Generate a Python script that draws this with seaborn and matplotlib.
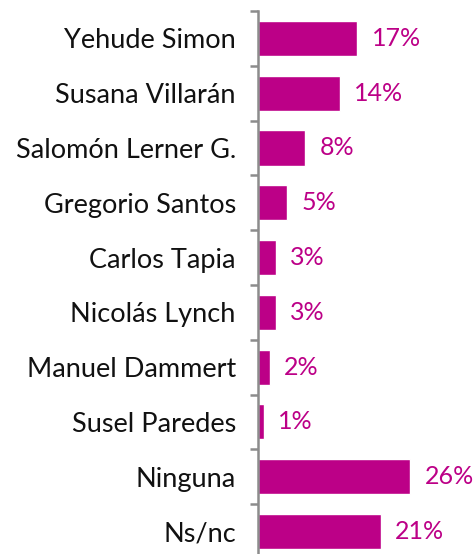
import matplotlib
matplotlib.use("Agg")
import matplotlib.pyplot as plt
import seaborn as sns
import numpy as np
import pandas as pd

# data
candidates = ["Yehude Simon", "Susana Villarán", "Salomón Lerner G.", "Gregorio Santos",
              "Carlos Tapia", "Nicolás Lynch", "Manuel Dammert", "Susel Paredes",
              "Ninguna", "Ns/nc"]
pct = [17, 14, 8, 5, 3, 3, 2, 1, 26, 21]

df = pd.DataFrame({"candidato": candidates, "pct": pct})

sns.set_style("white")
plt.rcParams["font.family"] = ["Lato", "DejaVu Sans"]

bar_color = "#BC0087"
W, H = 473, 554
fig = plt.figure(figsize=(W / 100, H / 100), dpi=100)
ax = fig.add_axes([258 / W, 0, 215 / W, (H - 11) / H])

sns.barplot(data=df, y="candidato", x="pct", orient="h", color=bar_color,
            width=0.64, saturation=1, ax=ax)

ax.set_xlim(0, 215 / 5.84)
ax.set_ylim(9.41, -0.5)

for i, v in enumerate(pct):
    ax.text(v + 2.5, i, f"{v}%", va="center", ha="left", color=bar_color, fontsize=18)

for s in ["top", "right", "bottom"]:
    ax.spines[s].set_visible(False)
ax.spines["left"].set_color("#8c8c8c")
ax.spines["left"].set_linewidth(1.8)

ax.set_xticks([])
ax.set_xlabel("")
ax.set_ylabel("")
ax.set_yticks(np.arange(len(candidates)))
ax.set_yticklabels(candidates, fontsize=19.5, color="#111111")
ax.tick_params(axis="y", which="major", length=0, pad=16)
ax.set_yticks(np.arange(len(candidates)) - 0.5, minor=True)
ax.tick_params(axis="y", which="minor", length=6, width=1.8, color="#8c8c8c", left=True)

fig.savefig("out.png", dpi=100)
